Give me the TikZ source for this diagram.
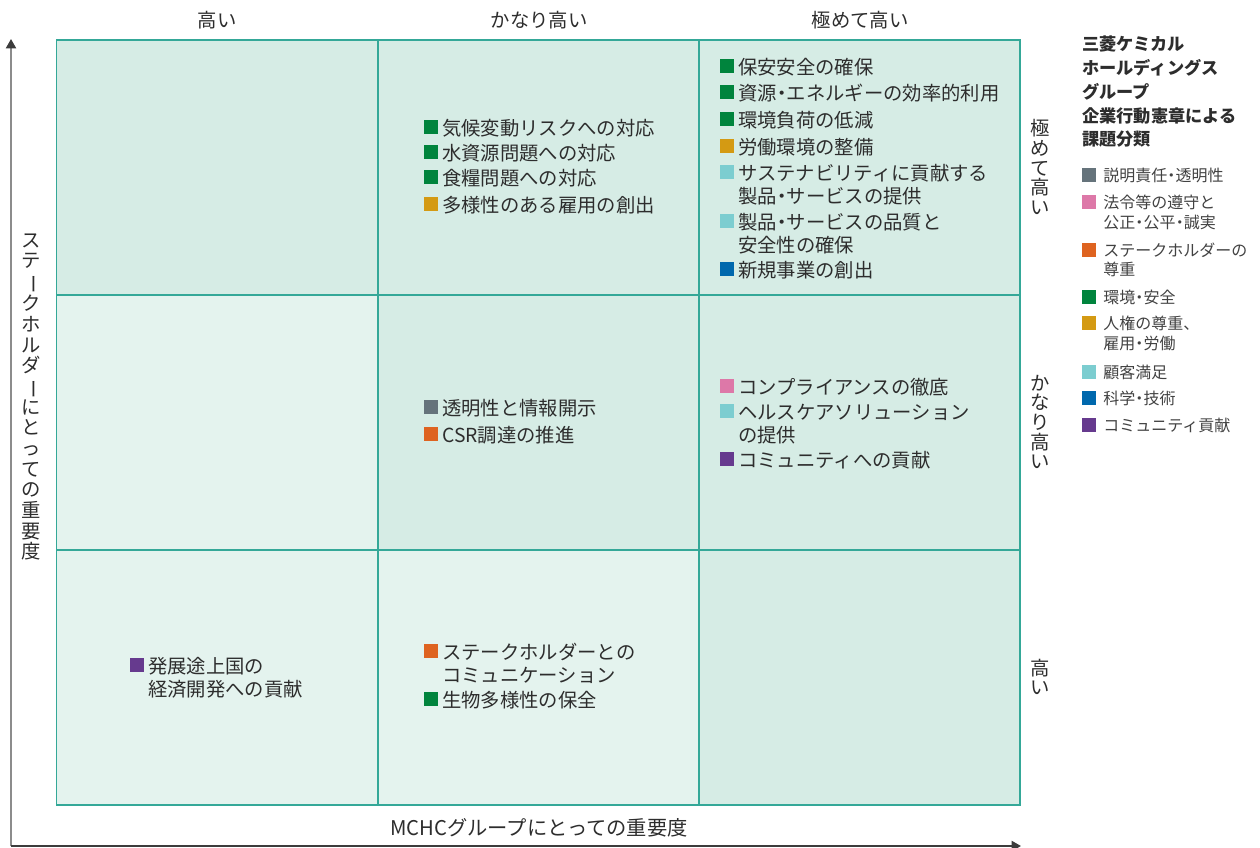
\documentclass[tikz,border=0pt]{standalone}
\usepackage{graphicx}
\usepackage{fontspec}
\setmainfont{Noto Sans CJK JP}
\usetikzlibrary{arrows.meta}
\definecolor{celldark}{RGB}{214,236,229}
\definecolor{celllight}{RGB}{228,243,238}
\definecolor{gridc}{RGB}{52,168,152}
\definecolor{txt}{RGB}{45,45,45}
\definecolor{legtxt}{RGB}{66,66,66}
\definecolor{axgray}{RGB}{140,140,140}
\definecolor{axdark}{RGB}{60,60,60}
\definecolor{cgray}{RGB}{101,115,123}
\definecolor{cpink}{RGB}{221,120,168}
\definecolor{corange}{RGB}{222,99,32}
\definecolor{cgreen}{RGB}{0,132,61}
\definecolor{cmustard}{RGB}{212,154,19}
\definecolor{ccyan}{RGB}{124,205,208}
\definecolor{cblue}{RGB}{0,104,173}
\definecolor{cpurple}{RGB}{102,58,142}
\newcommand\mainfs{\fontsize{14.5}{17.25}\selectfont}
\newcommand\legfs{\fontsize{12}{15}\selectfont}
\newcommand\vbar{\rotatebox[origin=c]{-90}{ー}}
\newcommand\nd{\kern-0.24em・\kern-0.24em}
% main item: name, x, baseline y, colour, text
\newcommand\mitem[5]{%
  \node[sq,fill=#4] (#1s) at (#2+7,#3-8) {};
  \node[itxt] (#1) at (#2+18,#3) {#5};}
% continuation line: name, x, baseline y, text
\newcommand\mline[4]{\node[itxt] (#1) at (#2+18,#3) {#4};}
% legend item: name, baseline y, colour, text
\newcommand\litem[4]{%
  \node[lsq,fill=#3] (#1s) at (1089,#2-6) {};
  \node[ltxt] (#1) at (1103,#2) {#4};}
\newcommand\lline[3]{\node[ltxt] (#1) at (1103,#2) {#3};}
\begin{document}
\begin{tikzpicture}[x=0.75pt,y=-0.75pt,
  cell/.style={draw=gridc,line width=1.1pt,inner sep=0pt,outer sep=0pt,
    minimum width=241pt,minimum height=191.25pt},
  sq/.style={inner sep=0pt,outer sep=0pt,minimum size=10.1pt},
  lsq/.style={inner sep=0pt,outer sep=0pt,minimum size=10.5pt},
  itxt/.style={anchor=base west,inner sep=0pt,font=\mainfs,text=txt},
  ltxt/.style={anchor=base west,inner sep=0pt,font=\legfs,text=legtxt},
  ttl/.style={anchor=base west,inner sep=0pt,font=\fontsize{12.9}{17}\selectfont\bfseries,text=txt},
  hdr/.style={anchor=base,inner sep=0pt,font=\mainfs,text=txt},
  vlab/.style={align=center,inner sep=0pt,text=txt},
  axis/.style={line width=1.5pt,-{Triangle[length=7pt,width=7.5pt,color=axdark]}}]
\useasboundingbox[fill=white] (0,0) rectangle (1260,847);
% cells
\node[cell,fill=celldark]  (c11) at (217,167.5) {};
\node[cell,fill=celldark]  (c12) at (538.5,167.5) {};
\node[cell,fill=celldark]  (c13) at (859.5,167.5) {};
\node[cell,fill=celllight] (c21) at (217,422.5) {};
\node[cell,fill=celldark]  (c22) at (538.5,422.5) {};
\node[cell,fill=celldark]  (c23) at (859.5,422.5) {};
\node[cell,fill=celllight] (c31) at (217,677.5) {};
\node[cell,fill=celllight] (c32) at (538.5,677.5) {};
\node[cell,fill=celldark]  (c33) at (859.5,677.5) {};
% axes
\coordinate (origin) at (11,846);
\coordinate (ytip) at (11,39);
\coordinate (xtip) at (1021,846);
\draw[axis,axgray] (origin) -- (ytip);
\draw[axis,axdark] (origin) -- (xtip);
% headers
\node[hdr] (h1) at (217,27) {高い};
\node[hdr] (h2) at (539,27) {かなり高い};
\node[hdr] (h3) at (860,27) {極めて高い};
\node[hdr,font=\fontsize{15.2}{18}\selectfont] (xlab) at (539,835) {MCHCグループにとっての重要度};
\node[vlab,font=\fontsize{14.5}{14.7}\selectfont] (r1) at (1040,167) {極\\め\\て\\高\\い};
\node[vlab,font=\fontsize{14.5}{14.7}\selectfont] (r2) at (1040,422) {か\\な\\り\\高\\い};
\node[vlab,font=\fontsize{14.5}{14.7}\selectfont] (r3) at (1040,677) {高\\い};
\node[vlab,font=\fontsize{14.5}{15.5}\selectfont] (ylab) at (31,397)
  {ス\\テ\\\vbar\\ク\\ホ\\ル\\ダ\\\vbar\\に\\と\\っ\\て\\の\\重\\要\\度};
% top-middle
\mitem{a1}{424}{135}{cgreen}{気候変動リスクへの対応}
\mitem{a2}{424}{160}{cgreen}{水資源問題への対応}
\mitem{a3}{424}{185}{cgreen}{食糧問題への対応}
\mitem{a4}{424}{212}{cmustard}{多様性のある雇用の創出}
% top-right
\mitem{b1}{720}{74}{cgreen}{保安安全の確保}
\mitem{b2}{720}{100}{cgreen}{資源\nd エネルギーの効率的利用}
\mitem{b3}{720}{127}{cgreen}{環境負荷の低減}
\mitem{b4}{720}{154}{cmustard}{労働環境の整備}
\mitem{b5}{720}{180}{ccyan}{サステナビリティに貢献する}
\mline{b5b}{720}{203}{製品\nd サービスの提供}
\mitem{b6}{720}{229}{ccyan}{製品\nd サービスの品質と}
\mline{b6b}{720}{252}{安全性の確保}
\mitem{b7}{720}{277}{cblue}{新規事業の創出}
% middle-centre
\mitem{m1}{424}{415}{cgray}{透明性と情報開示}
\mitem{m2}{424}{442}{corange}{CSR調達の推進}
% middle-right
\mitem{n1}{720}{394}{cpink}{コンプライアンスの徹底}
\mitem{n2}{720}{419}{ccyan}{ヘルスケアソリューション}
\mline{n2b}{720}{442}{の提供}
\mitem{n3}{720}{467}{cpurple}{コミュニティへの貢献}
% bottom-left
\mitem{p1}{130}{673}{cpurple}{発展途上国の}
\mline{p1b}{130}{696}{経済開発への貢献}
% bottom-centre
\mitem{q1}{424}{659}{corange}{ステークホルダーとの}
\mline{q1b}{424}{682}{コミュニケーション}
\mitem{q2}{424}{707}{cgreen}{生物多様性の保全}
% legend
\node[ttl] (t1) at (1082,50) {三菱ケミカル};
\node[ttl] (t2) at (1082,74) {ホールディングス};
\node[ttl] (t3) at (1082,98) {グループ};
\node[ttl] (t4) at (1082,122) {企業行動憲章による};
\node[ttl] (t5) at (1082,145) {課題分類};
\litem{l1}{181}{cgray}{説明責任\nd 透明性}
\litem{l2}{208}{cpink}{法令等の遵守と}
\lline{l2b}{228}{公正\nd 公平\nd 誠実}
\litem{l3}{256}{corange}{ステークホルダーの}
\lline{l3b}{275}{尊重}
\litem{l4}{303}{cgreen}{環境\nd 安全}
\litem{l5}{329}{cmustard}{人権の尊重、}
\lline{l5b}{349}{雇用\nd 労働}
\litem{l6}{378}{ccyan}{顧客満足}
\litem{l7}{404}{cblue}{科学\nd 技術}
\litem{l8}{431}{cpurple}{コミュニティ貢献}
\end{tikzpicture}
\end{document}
